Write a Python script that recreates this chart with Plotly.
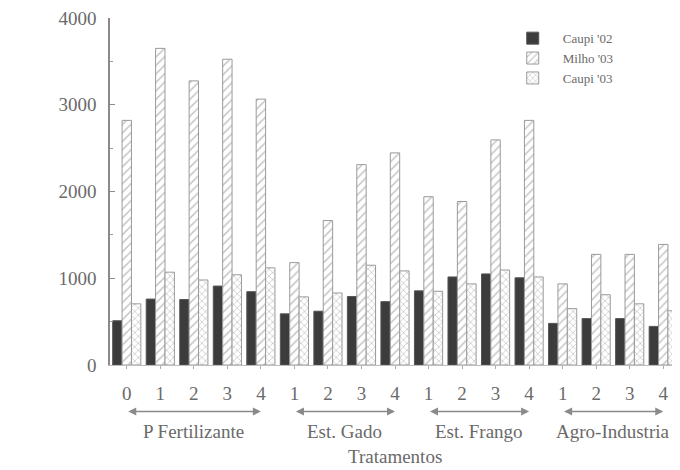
import plotly.graph_objects as go

# ---- data ----
groups = ["P Fertilizante", "Est. Gado", "Est. Frango", "Agro-Industria"]
group_levels = [["0", "1", "2", "3", "4"], ["1", "2", "3", "4"], ["1", "2", "3", "4"], ["1", "2", "3", "4"]]
tick_labels = [lv for g in group_levels for lv in g]

caupi_02 = [510, 760, 755, 910, 845, 590, 620, 790, 730, 855, 1015, 1050, 1005, 480, 535, 535, 445]
milho_03 = [2820, 3650, 3275, 3525, 3065, 1180, 1665, 2310, 2445, 1940, 1885, 2595, 2820, 935, 1275, 1275, 1390]
caupi_03 = [705, 1070, 980, 1040, 1120, 785, 830, 1150, 1085, 850, 935, 1095, 1015, 650, 810, 705, 625]

series_names = ["Caupi '02", "Milho '03", "Caupi '03"]
x_title = "Tratamentos"

FONT = "Liberation Serif"
TXT = "#6a6a6a"
FS = 19

x = list(range(len(tick_labels)))

fig = go.Figure()
fig.add_bar(x=x, y=caupi_02, name=series_names[0],
            marker=dict(color="#3c3c3c", line=dict(color="#555", width=1)))
fig.add_bar(x=x, y=milho_03, name=series_names[1],
            marker=dict(color="white", line=dict(color="#9a9a9a", width=1),
                        pattern=dict(shape="/", fgcolor="#8a8a8a", bgcolor="white", size=6, solidity=0.25)))
fig.add_bar(x=x, y=caupi_03, name=series_names[2],
            marker=dict(color="white", line=dict(color="#9a9a9a", width=1),
                        pattern=dict(shape="x", fgcolor="#9a9a9a", bgcolor="white", size=5, solidity=0.3)))

# group bracket arrows and names
start = 0
for g, lv in zip(groups, group_levels):
    end = start + len(lv) - 1
    fig.add_annotation(x=end, y=-0.134, xref="x", yref="paper",
                       ax=start, ay=0, axref="x", ayref="pixel",
                       showarrow=True, arrowside="end+start", arrowhead=2, arrowsize=1,
                       arrowwidth=1.6, arrowcolor="#8a8a8a", text="")
    fig.add_annotation(x=(start + end) / 2, y=-0.192, xref="x", yref="paper",
                       text=g, showarrow=False,
                       font=dict(family=FONT, size=FS, color=TXT), yanchor="middle")
    start = end + 1

fig.add_annotation(x=0.5, y=-0.264, xref="paper", yref="paper", text=x_title,
                   showarrow=False, font=dict(family=FONT, size=FS, color=TXT), yanchor="middle")

fig.update_layout(
    width=672, height=462,
    margin=dict(l=102, r=0, t=7, b=105),
    paper_bgcolor="white", plot_bgcolor="white",
    barmode="group", bargap=0.16, bargroupgap=0,
    font=dict(family=FONT, color=TXT, size=FS),
    showlegend=True,
    legend=dict(x=0.689, y=0.985, xanchor="left", yanchor="top",
                font=dict(family=FONT, size=13, color=TXT),
                bgcolor="rgba(0,0,0,0)", tracegroupgap=0, itemwidth=50),
)
fig.update_xaxes(
    tickmode="array", tickvals=x, ticktext=tick_labels,
    range=[-0.5, len(x) - 0.5],
    showline=True, linecolor="#bdbdbd", linewidth=1,
    ticks="outside", ticklen=3, tickcolor="#aaa",
    ticklabelstandoff=8,
    showgrid=False, zeroline=False,
    tickfont=dict(family=FONT, size=FS, color=TXT),
)
fig.update_yaxes(
    range=[0, 4000], tickvals=[0, 1000, 2000, 3000, 4000],
    showline=True, linecolor="#8a8a8a", linewidth=1.5,
    ticks="inside", ticklen=5, tickcolor="#8a8a8a",
    minor=dict(ticks="inside", ticklen=3, tickcolor="#9a9a9a", dtick=500),
    ticklabelstandoff=8, ticklabeloverflow="allow",
    showgrid=False, zeroline=False,
    tickfont=dict(family=FONT, size=FS, color=TXT),
)

fig.write_html("out.html")
